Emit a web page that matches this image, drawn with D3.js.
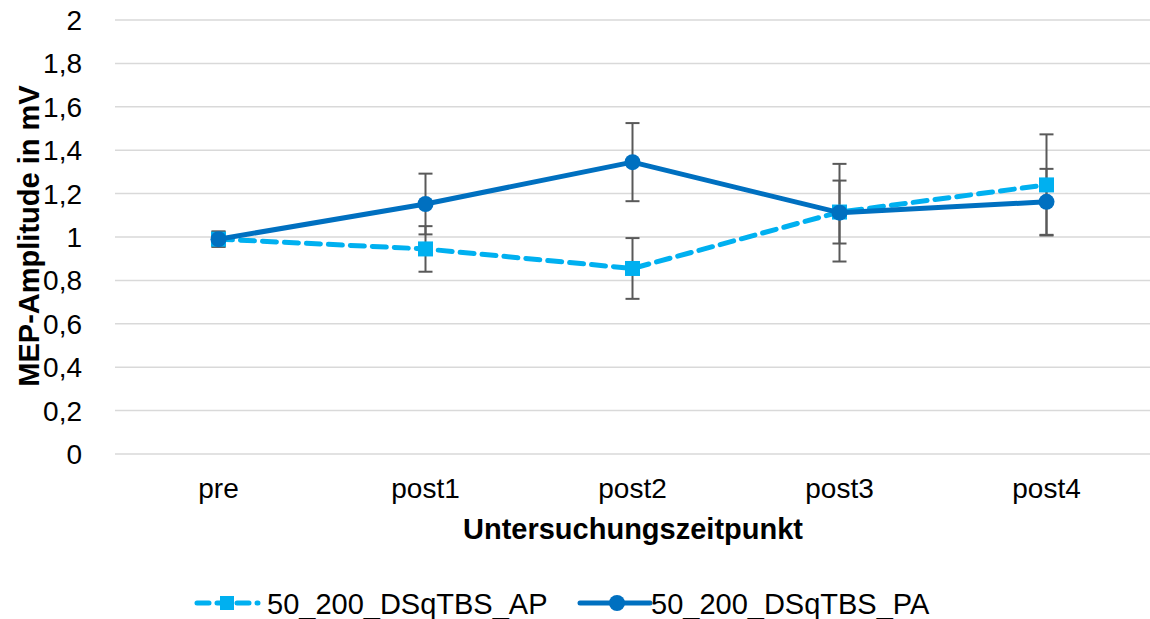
<!DOCTYPE html>
<html>
<head>
<meta charset="utf-8">
<script src="https://cdn.jsdelivr.net/npm/d3@7"></script>
<style>
  body { margin: 0; background: #fff; }
  text { font-family: "Liberation Sans", Arial, sans-serif; fill: #000; }
</style>
</head>
<body>
<div id="chart"></div>
<script>
// data
var categories = ["pre", "post1", "post2", "post3", "post4"];
var apValues = [0.99, 0.945, 0.855, 1.115, 1.24];
var apErrors = [0.035, 0.105, 0.14, 0.145, 0.233];
var paValues = [0.99, 1.152, 1.345, 1.112, 1.162];
var paErrors = [0.035, 0.14, 0.18, 0.225, 0.152];
var yTicks = [0, 0.2, 0.4, 0.6, 0.8, 1, 1.2, 1.4, 1.6, 1.8, 2];

var width = 1150, height = 619;

var svg = d3.select("#chart")
  .append("svg")
    .attr("width", width)
    .attr("height", height);

var x = d3.scaleBand()
  .domain(categories)
  .range([115, 1150]);

var y = d3.scaleLinear()
  .domain([0, 2])
  .range([454, 20]);

var cx = function(d, i){ return x(categories[i]) + x.bandwidth() / 2; };

// gridlines
svg.append("g")
  .selectAll("line")
  .data(yTicks)
  .enter()
  .append("line")
    .attr("x1", 115)
    .attr("x2", 1150)
    .attr("y1", function(d){ return y(d); })
    .attr("y2", function(d){ return y(d); })
    .attr("stroke", "#d9d9d9")
    .attr("stroke-width", 1.5);

// y tick labels
svg.append("g")
  .selectAll("text")
  .data(yTicks)
  .enter()
  .append("text")
    .attr("x", 82)
    .attr("y", function(d){ return y(d) + 10; })
    .attr("text-anchor", "end")
    .style("font-size", "28px")
    .text(function(d){ return String(d).replace(".", ","); });

// x tick labels
svg.append("g")
  .selectAll("text")
  .data(categories)
  .enter()
  .append("text")
    .attr("x", function(d){ return x(d) + x.bandwidth() / 2; })
    .attr("y", 498)
    .attr("text-anchor", "middle")
    .style("font-size", "28px")
    .text(function(d){ return d; });

// axis titles
svg.append("text")
  .attr("x", 633)
  .attr("y", 539)
  .attr("text-anchor", "middle")
  .style("font-size", "29px")
  .style("font-weight", "bold")
  .text("Untersuchungszeitpunkt");

svg.append("text")
  .attr("transform", "translate(39,236) rotate(-90)")
  .attr("text-anchor", "middle")
  .style("font-size", "29px")
  .style("font-weight", "bold")
  .text("MEP-Amplitude in mV");

// error bars
function errorBars(values, errors) {
  var g = svg.append("g")
    .attr("stroke", "#595959")
    .attr("stroke-width", 2);
  values.forEach(function(v, i){
    var px = cx(null, i);
    var top = y(v + errors[i]), bot = y(v - errors[i]);
    g.append("line").attr("x1", px).attr("x2", px).attr("y1", top).attr("y2", bot);
    g.append("line").attr("x1", px - 7).attr("x2", px + 7).attr("y1", top).attr("y2", top);
    g.append("line").attr("x1", px - 7).attr("x2", px + 7).attr("y1", bot).attr("y2", bot);
  });
}
errorBars(apValues, apErrors);
errorBars(paValues, paErrors);

var line = d3.line()
  .x(function(d, i){ return cx(d, i); })
  .y(function(d){ return y(d); });

// AP series
svg.append("path")
  .datum(apValues)
  .attr("d", line)
  .attr("fill", "none")
  .attr("stroke", "#00b0f0")
  .attr("stroke-width", 5)
  .attr("stroke-dasharray", "14,8")
  .attr("stroke-linecap", "round");

svg.append("g")
  .selectAll("rect")
  .data(apValues)
  .enter()
  .append("rect")
    .attr("x", function(d, i){ return cx(d, i) - 7.5; })
    .attr("y", function(d){ return y(d) - 7.5; })
    .attr("width", 15)
    .attr("height", 15)
    .attr("fill", "#00b0f0");

// PA series
svg.append("path")
  .datum(paValues)
  .attr("d", line)
  .attr("fill", "none")
  .attr("stroke", "#0070c0")
  .attr("stroke-width", 5)
  .attr("stroke-linejoin", "round");

svg.append("g")
  .selectAll("circle")
  .data(paValues)
  .enter()
  .append("circle")
    .attr("cx", function(d, i){ return cx(d, i); })
    .attr("cy", function(d){ return y(d); })
    .attr("r", 8)
    .attr("fill", "#0070c0");

// legend
var legend = svg.append("g");
legend.append("line")
  .attr("x1", 197).attr("x2", 258).attr("y1", 603).attr("y2", 603)
  .attr("stroke", "#00b0f0").attr("stroke-width", 5)
  .attr("stroke-dasharray", "12,8").attr("stroke-linecap", "round");
legend.append("rect")
  .attr("x", 220).attr("y", 596).attr("width", 14).attr("height", 14)
  .attr("fill", "#00b0f0");
legend.append("text")
  .attr("x", 267).attr("y", 614)
  .style("font-size", "29px")
  .text("50_200_DSqTBS_AP");

legend.append("line")
  .attr("x1", 580).attr("x2", 650).attr("y1", 603).attr("y2", 603)
  .attr("stroke", "#0070c0").attr("stroke-width", 5)
  .attr("stroke-linecap", "round");
legend.append("circle")
  .attr("cx", 617).attr("cy", 603).attr("r", 8)
  .attr("fill", "#0070c0");
legend.append("text")
  .attr("x", 651).attr("y", 614)
  .style("font-size", "29px")
  .text("50_200_DSqTBS_PA");
</script>
</body>
</html>
